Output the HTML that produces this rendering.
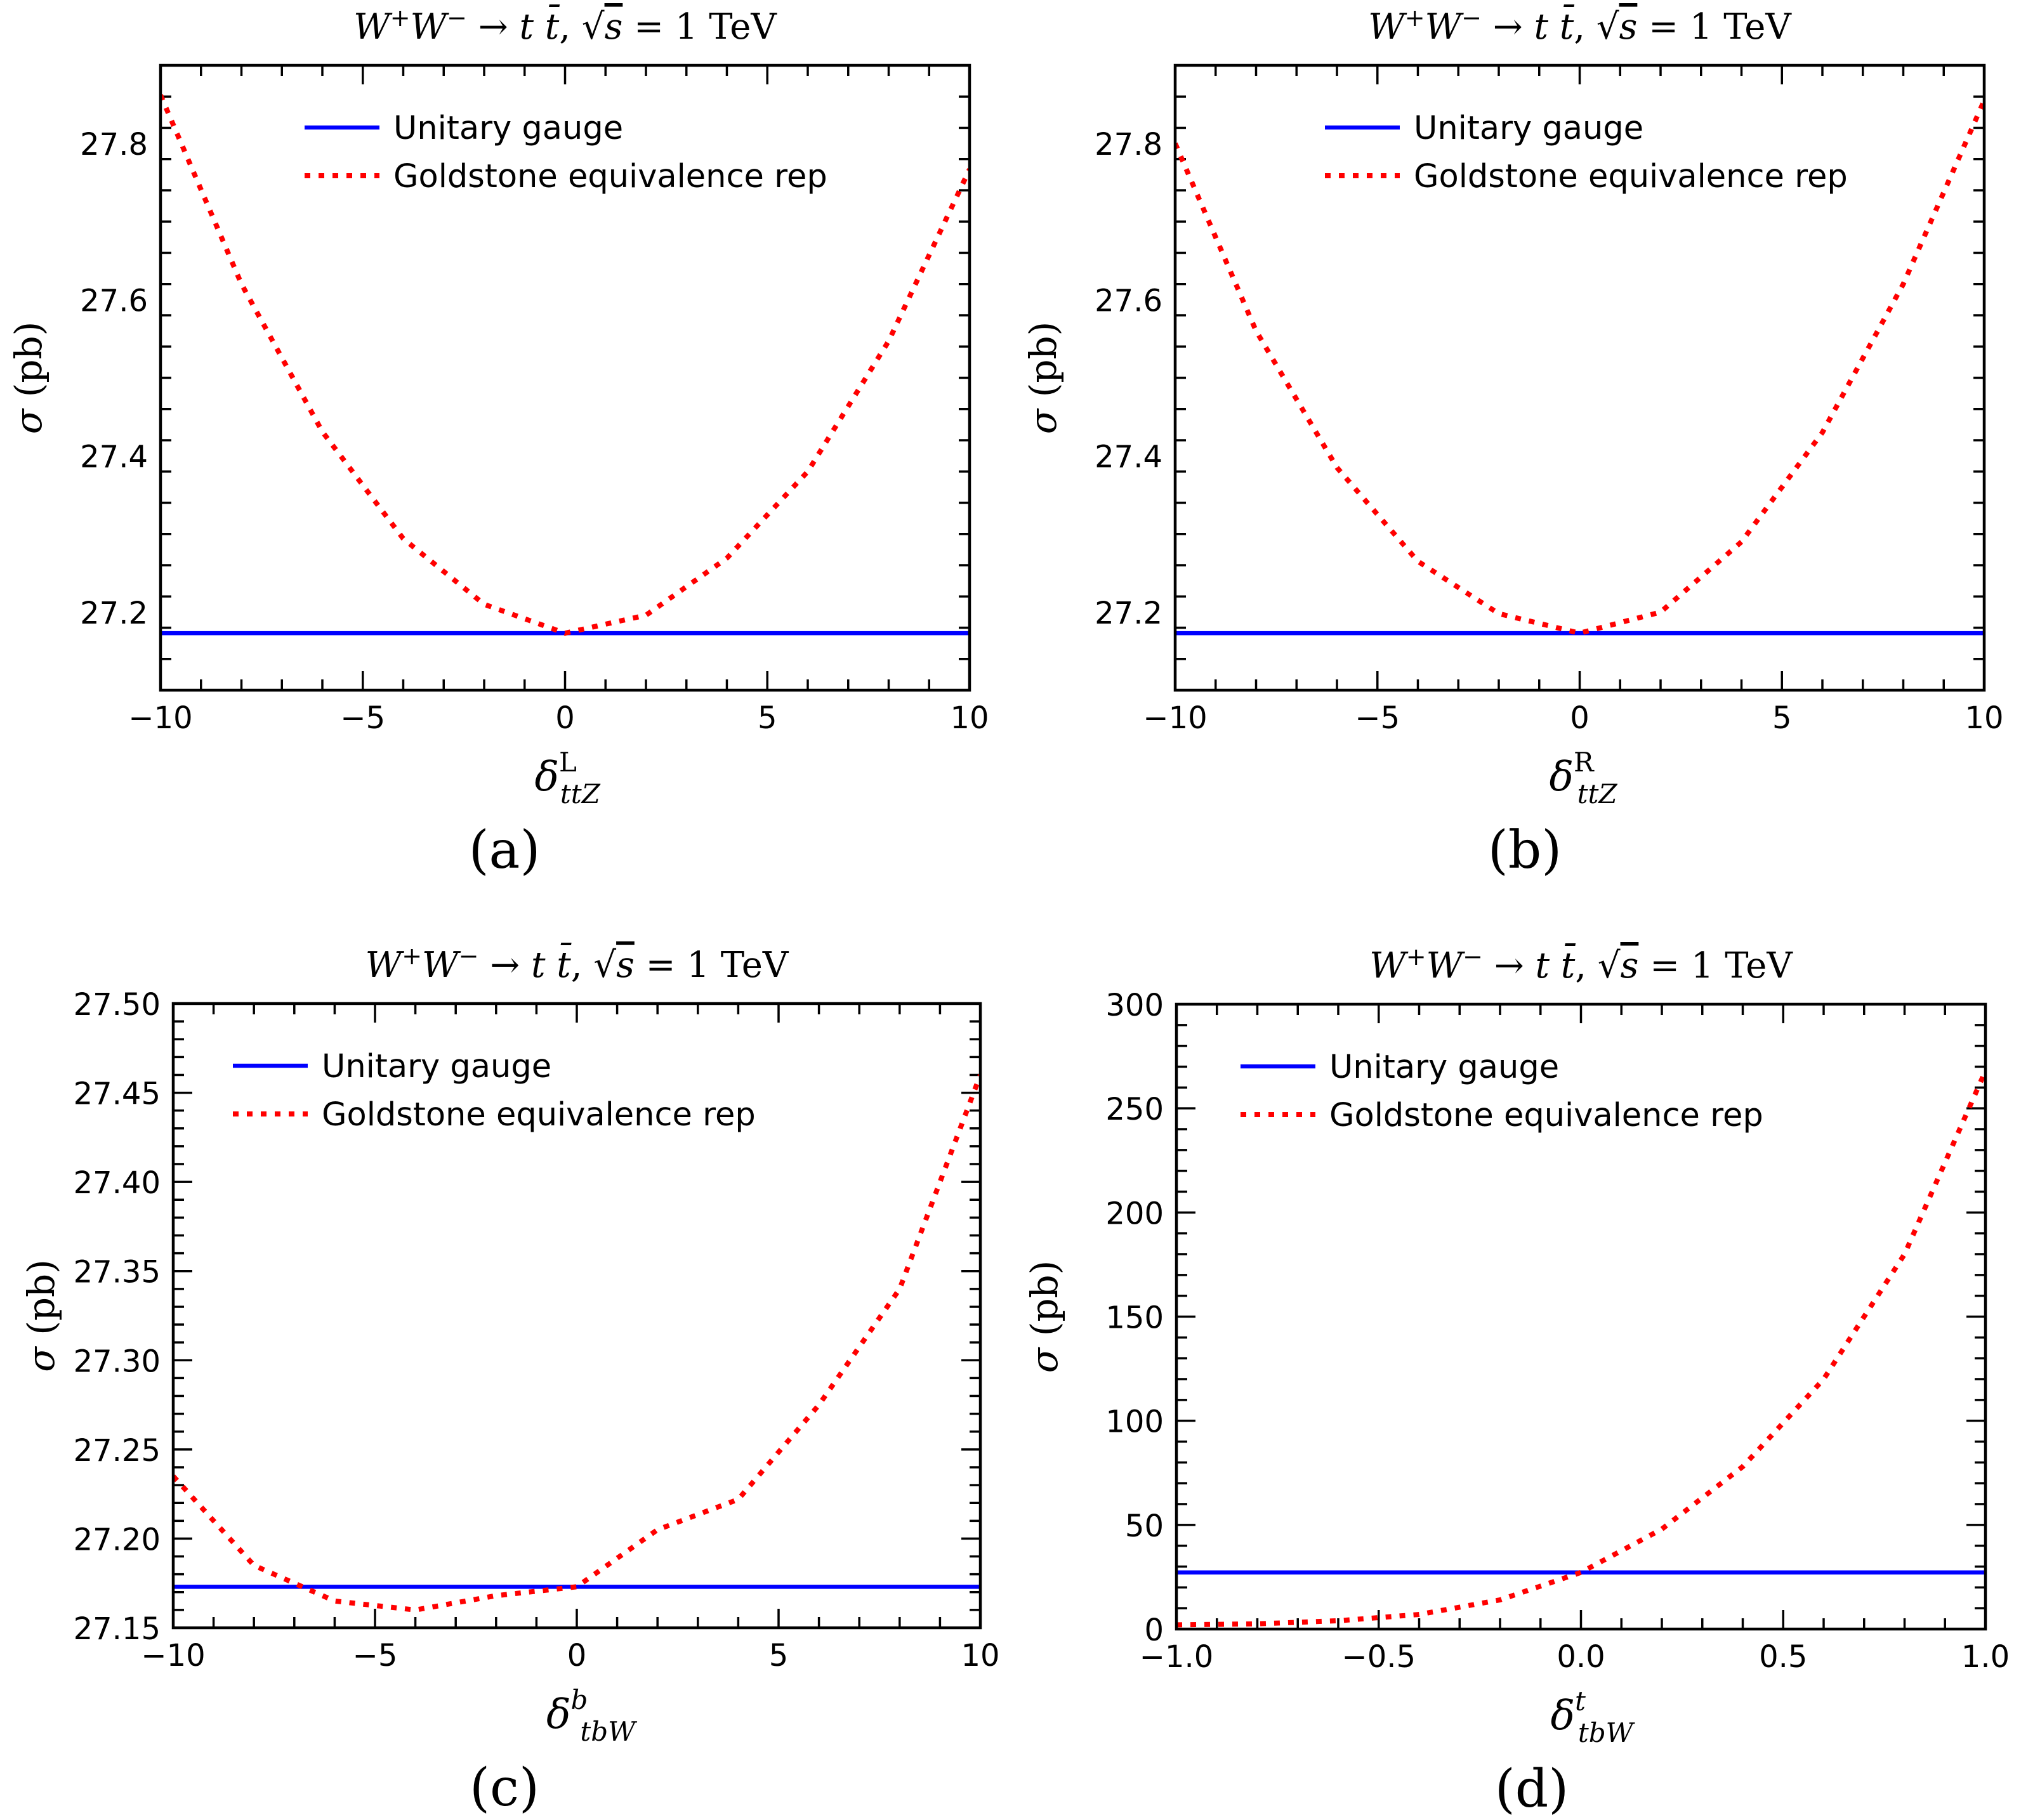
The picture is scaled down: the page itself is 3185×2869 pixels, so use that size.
<!DOCTYPE html>
<html><head><meta charset="utf-8"><style>
html,body{margin:0;padding:0;background:#fff;}
svg{display:block;}
.tk{font-family:"DejaVu Sans","Liberation Sans",sans-serif;font-size:48px;fill:#000;}
.lg{font-family:"DejaVu Sans","Liberation Sans",sans-serif;font-size:51px;fill:#000;}
.mt{font-family:"DejaVu Serif","Liberation Serif",serif;fill:#000;}
</style></head><body>
<svg id="fig" width="3185" height="2869" viewBox="0 0 3185 2869" xmlns="http://www.w3.org/2000/svg"></svg>
<script>
// ---- data ----
const xA = [-10,-8,-6,-4,-2,0,2,4,6,8,10];
const goldA = [27.862,27.62,27.431,27.294,27.21,27.173,27.196,27.269,27.38,27.547,27.767];
const unitA = 27.173;
const xB = [-10,-8,-6,-4,-2,0,2,4,6,8,10];
const goldB = [27.80,27.56,27.385,27.265,27.198,27.173,27.2,27.29,27.43,27.62,27.855];
const unitB = 27.173;
const xC = [-10,-8,-6,-4,-2,0,2,4,6,8,10];
const goldC = [27.235,27.185,27.165,27.160,27.168,27.173,27.205,27.222,27.275,27.34,27.46];
const unitC = 27.173;
const xD = [-1,-0.8,-0.6,-0.4,-0.2,0,0.2,0.4,0.6,0.8,1.0];
const goldD = [2,2.5,4,7,14,27.2,48,78,120,180,268];
const unitD = 27.17;
const ticksXA = [-10,-5,0,5,10];
const ticksYA = [27.2,27.4,27.6,27.8];
const ticksYC = [27.15,27.20,27.25,27.30,27.35,27.40,27.45,27.50];
const ticksXD = [-1.0,-0.5,0.0,0.5,1.0];
const ticksYD = [0,50,100,150,200,250,300];

const NS = "http://www.w3.org/2000/svg";
const fig = document.getElementById('fig');
function mk(tag, attrs, parent){
  const e = document.createElementNS(NS, tag);
  for (const k in attrs) e.setAttribute(k, attrs[k]);
  (parent||fig).appendChild(e);
  return e;
}
function fmtMinus(s){ return s.replace('-', '\u2212'); }

const panels = [
  {id:'a', L:253,R:1528,T:103,B:1088, x0:-10,x1:10, y0:27.1,y1:27.9, xs:xA, ys:goldA, u:unitA,
   xt:ticksXA, xminor:1, yt:ticksYA, yminor:0.04, xdec:0, ydec:1, legX:480, sub:'ttZ', sup:'L', supItalic:false, lab:'(a)', labX:795},
  {id:'b', L:1852,R:3127,T:103,B:1088, x0:-10,x1:10, y0:27.1,y1:27.9, xs:xB, ys:goldB, u:unitB,
   xt:ticksXA, xminor:1, yt:ticksYA, yminor:0.04, xdec:0, ydec:1, legX:2088, sub:'ttZ', sup:'R', supItalic:false, lab:'(b)', labX:2403},
  {id:'c', L:273,R:1545,T:1582,B:2566, x0:-10,x1:10, y0:27.15,y1:27.5, xs:xC, ys:goldC, u:unitC,
   xt:ticksXA, xminor:1, yt:ticksYC, yminor:0.01, xdec:0, ydec:2, legX:367, sub:'tbW', sup:'b', supItalic:true, lab:'(c)', labX:795},
  {id:'d', L:1854,R:3129,T:1583,B:2568, x0:-1,x1:1, y0:0,y1:300, xs:xD, ys:goldD, u:unitD,
   xt:ticksXD, xminor:0.1, yt:ticksYD, yminor:10, xdec:1, ydec:0, legX:1955, sub:'tbW', sup:'t', supItalic:true, lab:'(d)', labX:2414}
];

panels.forEach(p => {
  const g = mk('g', {});
  
  
  const sx = v => p.L + (v - p.x0) / (p.x1 - p.x0) * (p.R - p.L);
  const sy = v => p.B - (v - p.y0) / (p.y1 - p.y0) * (p.B - p.T);
  const cx = (p.L + p.R) / 2;

  const cp = mk('clipPath', {id:'clip'+p.id}, g);
  mk('rect', {x:p.L, y:p.T-4, width:p.R-p.L, height:p.B-p.T+8}, cp);

  const tg = mk('g', {stroke:'#000','stroke-width':3.5}, g);
  
  
  const nx = Math.round((p.x1 - p.x0) / p.xminor);
  for (let i = 0; i <= nx; i++) {
    const v = p.x0 + i * p.xminor, X = sx(v);
    const major = p.xt.some(t => Math.abs(t - v) < 1e-9);
    const len = major ? 30 : 17;
    mk('line', {x1:X, x2:X, y1:p.B, y2:p.B-len}, tg);
    mk('line', {x1:X, x2:X, y1:p.T, y2:p.T+len}, tg);
  }
  const ny = Math.round((p.y1 - p.y0) / p.yminor);
  for (let i = 0; i <= ny; i++) {
    const v = p.y0 + i * p.yminor, Y = sy(v);
    const major = p.yt.some(t => Math.abs(t - v) < 1e-9);
    const len = major ? 30 : 17;
    mk('line', {x1:p.L, x2:p.L+len, y1:Y, y2:Y}, tg);
    mk('line', {x1:p.R, x2:p.R-len, y1:Y, y2:Y}, tg);
  }
  p.xt.forEach(t => {
    const e = mk('text', {x:sx(t), y:p.B+60, 'text-anchor':'middle', class:'tk'}, g);
    
    
    e.textContent = fmtMinus(t.toFixed(p.xdec));
  });
  p.yt.forEach(t => {
    const e = mk('text', {x:p.L-20, y:sy(t)+18, 'text-anchor':'end', class:'tk'}, g);
    
    
    e.textContent = t.toFixed(p.ydec);
  });

  const ul = mk('line', {x1:p.L, x2:p.R, y1:sy(p.u), y2:sy(p.u), stroke:'#0000ff','stroke-width':6.5,'clip-path':'url(#clip'+p.id+')'}, g);
  
  
  const pts = p.xs.map((x, i) => sx(x).toFixed(1) + ',' + sy(p.ys[i]).toFixed(1)).join(' ');
  const gl = mk('polyline', {points:pts, fill:'none', stroke:'#ff0000','stroke-width':8,'stroke-dasharray':'9 13','clip-path':'url(#clip'+p.id+')'}, g);
  
  

  const fr = mk('rect', {x:p.L, y:p.T, width:p.R-p.L, height:p.B-p.T, fill:'none', stroke:'#000','stroke-width':4.5}, g);
  
  

  const lg = mk('g', {}, g);
  
  
  const ly1 = p.T + 98, ly2 = p.T + 174;
  mk('line', {x1:p.legX, x2:p.legX+118, y1:ly1, y2:ly1, stroke:'#0000ff','stroke-width':6.5}, lg);
  mk('line', {x1:p.legX, x2:p.legX+118, y1:ly2, y2:ly2, stroke:'#ff0000','stroke-width':8,'stroke-dasharray':'9 13'}, lg);
  const t1 = mk('text', {x:p.legX+140, y:ly1+18, class:'lg'}, lg);
  
  
  t1.textContent = 'Unitary gauge';
  const t2 = mk('text', {x:p.legX+140, y:ly2+18, class:'lg'}, lg);
  
  
  t2.textContent = 'Goldstone equivalence rep';

  const ti = mk('text', {x:cx, y:p.T-42, 'text-anchor':'middle', class:'mt', 'font-size':56}, g);
  
  
  ti.innerHTML = '<tspan font-style="italic">W</tspan><tspan dy="-20" font-size="38">+</tspan><tspan dy="20" font-style="italic">W</tspan><tspan dy="-20" font-size="38">\u2212</tspan><tspan dy="20"> \u2192 </tspan><tspan font-style="italic">t t\u0304</tspan><tspan>,    \u221A</tspan><tspan font-style="italic" text-decoration="overline">s</tspan><tspan> = 1 TeV</tspan>';

  const yl = mk('text', {x:0, y:0, 'text-anchor':'middle', class:'mt', 'font-size':58, transform:'translate('+(p.L-188)+','+((p.T+p.B)/2)+') rotate(-90)'}, g);
  
  
  yl.innerHTML = '<tspan font-style="italic">\u03C3</tspan> (pb)';

  const xl = mk('text', {x:cx-48, y:p.B+158, class:'mt', 'font-size':64}, g);
  
  
  xl.innerHTML = '<tspan font-style="italic">\u03B4</tspan><tspan dy="-30" font-size="42"' + (p.supItalic ? ' font-style="italic"' : '') + '>' + p.sup + '</tspan><tspan dx="-' + (p.supItalic ? 12 : 26) + '" dy="50" font-size="42" font-style="italic">' + p.sub + '</tspan>';

  const pl = mk('text', {x:p.labX, y:p.B+280, 'text-anchor':'middle', class:'mt', 'font-size':82}, g);
  
  
  pl.textContent = p.lab;
});
</script>
</body></html>
